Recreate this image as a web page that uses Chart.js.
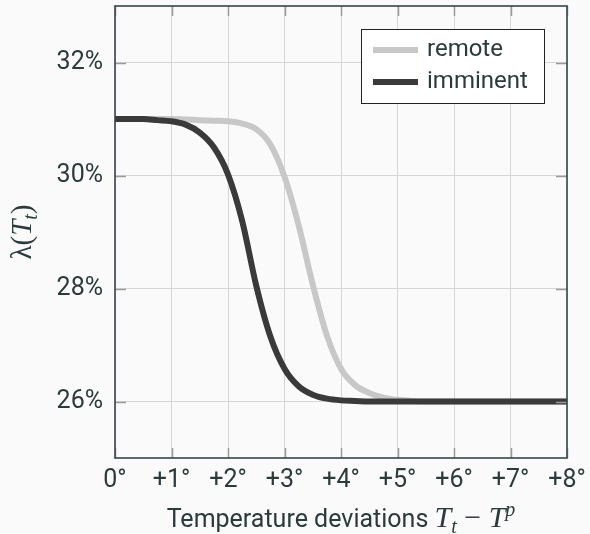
<!DOCTYPE html>
<html>
<head>
<meta charset="utf-8">
<script src="https://cdn.jsdelivr.net/npm/chart.js@4.4.1/dist/chart.umd.min.js"></script>
<style>
  html, body { margin: 0; padding: 0; background: #fafafa; }
  #wrap { width: 590px; height: 534px; position: relative; }
</style>
</head>
<body>
<div id="wrap"><canvas id="lambdaChart"></canvas></div>
<script>
const temps = [0, 0.25, 0.5, 0.75, 1, 1.25, 1.5, 1.75, 2, 2.25, 2.5, 2.75, 3, 3.25, 3.5, 3.75, 4, 4.25, 4.5, 4.75, 5, 5.25, 5.5, 6, 7, 8];

// lambda(T_t) in percent
const remoteValues = [31.00, 31.00, 31.00, 31.00, 31.00, 30.99, 30.98, 30.97, 30.96, 30.92, 30.82, 30.55, 29.98, 29.12, 28.07, 27.17, 26.58, 26.29, 26.15, 26.07, 26.03, 26.01, 26.00, 26.00, 26.00, 26.00];
const imminentValues = [31.00, 31.00, 31.00, 30.98, 30.96, 30.90, 30.76, 30.50, 30.02, 29.20, 28.05, 27.15, 26.58, 26.27, 26.12, 26.05, 26.02, 26.01, 26.00, 26.00, 26.00, 26.00, 26.00, 26.00, 26.00, 26.00];

const seriesLabels = ["remote", "imminent"];
const xTicks = [0, 1, 2, 3, 4, 5, 6, 7, 8];
const yTicks = [26, 28, 30, 32];

const textColor = "#2b3b3c";
const frameColor = "#33474a";
const sansFont = "Roboto";
const mathFont = "'Liberation Serif'";

function toPoints(values) {
  return temps.map((t, i) => ({ x: t, y: values[i] }));
}

function drawParts(c, parts, centerX, baseY) {
  let total = 0;
  parts.forEach(p => { c.font = p.f; p.w = c.measureText(p.t).width; total += p.w; });
  let cx = centerX - total / 2;
  parts.forEach(p => {
    c.font = p.f;
    c.fillText(p.t, cx, baseY + p.dy);
    cx += p.w;
  });
}

// frame, inner ticks, boxed legend and the math axis titles
const decorations = {
  id: "decorations",
  afterDraw(chart) {
    const c = chart.ctx;
    const area = chart.chartArea;
    const xs = chart.scales.x;
    const ys = chart.scales.y;

    c.save();
    // inner tick marks on all four sides
    c.strokeStyle = "#9a9a9a";
    c.lineWidth = 1.5;
    xTicks.forEach(v => {
      const px = Math.round(xs.getPixelForValue(v)) + 0.5;
      c.beginPath();
      c.moveTo(px, area.top); c.lineTo(px, area.top + 10);
      c.moveTo(px, area.bottom); c.lineTo(px, area.bottom - 10);
      c.stroke();
    });
    yTicks.forEach(v => {
      const py = Math.round(ys.getPixelForValue(v)) + 0.5;
      c.beginPath();
      c.moveTo(area.left, py); c.lineTo(area.left + 11, py);
      c.moveTo(area.right, py); c.lineTo(area.right - 11, py);
      c.stroke();
    });

    // frame
    c.strokeStyle = frameColor;
    c.lineWidth = 1.6;
    c.strokeRect(area.left, area.top, area.right - area.left, area.bottom - area.top);

    // legend box
    const lx = 361, ly = 29, lw = 183, lh = 74;
    c.fillStyle = "#ffffff";
    c.fillRect(lx, ly, lw, lh);
    c.strokeStyle = "#222";
    c.lineWidth = 1;
    c.strokeRect(lx + 0.5, ly + 0.5, lw, lh);
    chart.data.datasets.forEach((ds, i) => {
      const rowY = 50 + i * 32;
      c.strokeStyle = ds.borderColor;
      c.lineWidth = 6;
      c.beginPath();
      c.moveTo(373, rowY); c.lineTo(418, rowY);
      c.stroke();
      c.fillStyle = textColor;
      c.font = "24px " + sansFont;
      c.textBaseline = "middle";
      c.textAlign = "left";
      c.fillText(ds.label, 427, rowY);
    });

    // x axis title: Temperature deviations T_t − T^p
    c.fillStyle = textColor;
    c.textBaseline = "alphabetic";
    c.textAlign = "left";
    drawParts(c, [
      { t: "Temperature deviations ", f: "25px " + sansFont, dy: 0 },
      { t: "T", f: "italic 30px " + mathFont, dy: 0 },
      { t: "t", f: "italic 20px " + mathFont, dy: 6 },
      { t: " \u2212 ", f: "30px " + mathFont, dy: 0 },
      { t: "T", f: "italic 30px " + mathFont, dy: 0 },
      { t: "p", f: "italic 20px " + mathFont, dy: -11 }
    ], (area.left + area.right) / 2, 527);

    // y axis title: λ(T_t)
    c.translate(31, (area.top + area.bottom) / 2);
    c.rotate(-Math.PI / 2);
    drawParts(c, [
      { t: "\u03bb(", f: "29px " + mathFont, dy: 0 },
      { t: "T", f: "italic 29px " + mathFont, dy: 0 },
      { t: "t", f: "italic 20px " + mathFont, dy: 6 },
      { t: ")", f: "29px " + mathFont, dy: 0 }
    ], 0, 0);
    c.restore();
  }
};

const ctx = document.getElementById("lambdaChart");

let chart = new Chart(ctx, {
  type: "line",
  data: {
    datasets: [
      {
        label: seriesLabels[0],
        data: toPoints(remoteValues),
        borderColor: "#c8c8c8",
        borderWidth: 6,
        pointRadius: 0,
        cubicInterpolationMode: "monotone",
        order: 1
      },
      {
        label: seriesLabels[1],
        data: toPoints(imminentValues),
        borderColor: "#3a3a3a",
        borderWidth: 6,
        pointRadius: 0,
        cubicInterpolationMode: "monotone",
        order: 0
      }
    ]
  },
  plugins: [decorations],
  options: {
    responsive: true,
    maintainAspectRatio: false,
    animation: false,
    layout: {
      padding: { top: 6, right: 23, left: 0, bottom: 0 }
    },
    plugins: {
      legend: { display: false },
      tooltip: { enabled: false }
    },
    scales: {
      x: {
        type: "linear",
        min: 0,
        max: 8,
        afterBuildTicks: scale => {
          scale.ticks = xTicks.map(v => ({ value: v }));
        },
        afterFit: scale => {
          scale.height = 76;
          scale.paddingLeft = 0;
          scale.paddingRight = 0;
        },
        ticks: {
          color: textColor,
          font: { family: sansFont, size: 25 },
          padding: 8,
          maxRotation: 0,
          autoSkip: false,
          callback: v => (v === 0 ? "0°" : "+" + v + "°")
        },
        grid: {
          color: "#d6d6d6",
          lineWidth: 1,
          drawTicks: false
        },
        border: { display: false }
      },
      y: {
        min: 25,
        max: 33,
        afterBuildTicks: scale => {
          scale.ticks = yTicks.map(v => ({ value: v }));
        },
        afterFit: scale => {
          scale.width = 115;
          scale.paddingTop = 0;
          scale.paddingBottom = 0;
        },
        ticks: {
          color: textColor,
          font: { family: sansFont, size: 25 },
          padding: 12,
          callback: v => v + "%"
        },
        grid: {
          color: "#d6d6d6",
          lineWidth: 1,
          drawTicks: false
        },
        border: { display: false }
      }
    }
  }
});
</script>
</body>
</html>
